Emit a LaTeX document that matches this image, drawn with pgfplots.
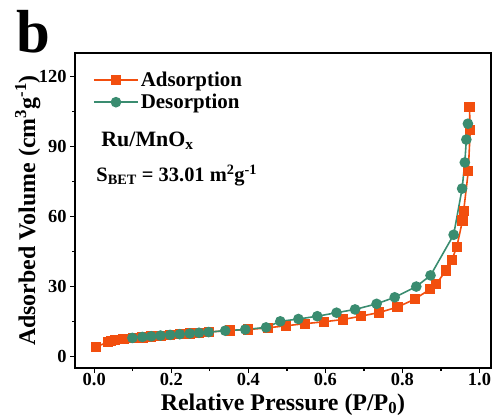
\documentclass[border=0pt]{standalone}
\usepackage{fontspec}
\setmainfont{Liberation Serif}
\usepackage{pgfplots}
\pgfplotsset{compat=1.18}
\definecolor{ads}{RGB}{242,78,14}
\definecolor{des}{RGB}{58,140,112}
\begin{document}
\begin{tikzpicture}
\begin{axis}[
  scale only axis, width=416bp, height=315bp,
  clip=false,
  xmin=-0.05, xmax=1.03, ymin=-5, ymax=130,
  xtick={0,0.2,0.4,0.6,0.8,1.0}, ytick={0,30,60,90,120},
  xticklabels={0.0,0.2,0.4,0.6,0.8,1.0},
  minor x tick num=1, minor y tick num=1,
  tick align=outside, tick pos=left,
  major tick length=5bp, minor tick length=3bp,
  every tick/.style={black, line width=1.3pt},
  axis line style={line width=1.5pt},
  /pgf/number format/assume math mode=true,
  ticklabel style={font=\fontsize{18.5}{18.5}\selectfont\bfseries},
  xticklabel style={inner sep=0.5bp, yshift=0bp},
  xlabel={Relative Pressure (P/P\textsubscript{0})},
  ylabel={Adsorbed Volume (cm\textsuperscript{3}g\textsuperscript{-1})},
  label style={font=\fontsize{24}{24}\selectfont\bfseries},
  xlabel style={at={(rel axis cs:0.5,0)}, anchor=base, yshift=-42bp, inner sep=0pt},
  ylabel style={at={(rel axis cs:-0.096,0.5)}, anchor=base},
  legend style={at={(rel axis cs:0,1)}, anchor=north west, draw=none, fill=none,
    xshift=15bp, yshift=-15bp,
    font=\fontsize{21}{21}\selectfont\bfseries,
    row sep=2bp},
  legend cell align=left,
  legend image code/.code={\draw[mark repeat=2,mark phase=2] plot coordinates {(0bp,0bp) (22bp,0bp) (44bp,0bp)};},
]
\addplot[ads, line width=1.6pt, mark=square*, mark size=4.3bp, mark options={solid, fill=ads}] coordinates {
(0.004,4.0) (0.035,6.1) (0.043,6.6) (0.054,6.9) (0.076,7.3)
(0.100,7.7) (0.125,8.1) (0.148,8.5) (0.172,8.8) (0.197,9.2)
(0.222,9.5) (0.248,9.8) (0.272,10.1) (0.297,10.4)
(0.352,11.1) (0.400,11.5) (0.450,12.2) (0.497,13.1) (0.547,14.0)
(0.596,14.8) (0.646,15.8) (0.692,17.2) (0.740,18.8) (0.787,21.1)
(0.832,24.5) (0.872,28.8) (0.888,31.0) (0.913,36.8) (0.928,41.2)
(0.941,46.8) (0.956,58.2) (0.959,62.3) (0.971,79.3) (0.976,96.9)
(0.974,106.9)
};
\addlegendentry{Adsorption}
\addplot[des, line width=1.6pt, mark=*, mark size=4.5bp, mark options={solid, fill=des}] coordinates {
(0.099,7.9) (0.125,8.3) (0.148,8.6) (0.172,8.9) (0.197,9.2)
(0.222,9.5) (0.248,9.8) (0.272,10.1) (0.297,10.4) (0.340,11.0)
(0.392,11.5) (0.446,12.4) (0.483,15.0) (0.530,16.0) (0.579,17.2)
(0.629,18.7) (0.677,20.1) (0.733,22.5) (0.780,25.3) (0.836,29.9)
(0.873,34.7) (0.933,52.1) (0.955,71.9) (0.962,83.1) (0.966,92.9)
(0.970,99.7)
};
\addlegendentry{Desorption}
\node[anchor=base west, font=\fontsize{22}{22}\selectfont\bfseries] at (rel axis cs:0.055,0.702) {Ru/MnO\textsubscript{x}};
\node[anchor=base west, font=\fontsize{20.5}{20.5}\selectfont\bfseries] at (rel axis cs:0.043,0.591) {S\textsubscript{BET} = 33.01 m\textsuperscript{2}g\textsuperscript{-1}};
\node[anchor=base west, font=\fontsize{61}{61}\selectfont\bfseries, inner sep=0pt] at (rel axis cs:-0.141,1.003) {b};
\coordinate (bl) at (rel axis cs:-0.1803,-0.1619);
\coordinate (tr) at (rel axis cs:1.0048,1.1683);
\end{axis}
\pgfresetboundingbox
\path[use as bounding box] (bl) rectangle (tr);
\end{tikzpicture}
\end{document}
